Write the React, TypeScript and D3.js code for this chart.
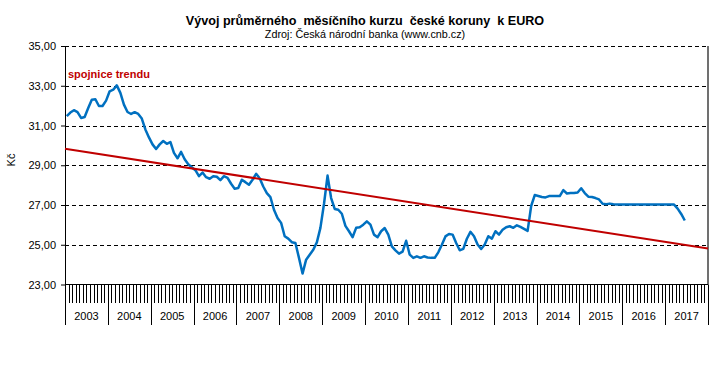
import React, { useEffect, useRef } from "react";
import * as d3 from "d3";

// monthly average CZK/EUR
const rate2003 = [31.47, 31.65, 31.77, 31.67, 31.38, 31.43, 31.88, 32.3, 32.32, 31.98, 31.98, 32.25];
const rate2004 = [32.72, 32.8, 33.02, 32.64, 32.05, 31.68, 31.58, 31.67, 31.58, 31.35, 30.8, 30.4];
const rate2005 = [30.05, 29.82, 30.05, 30.22, 30.08, 30.17, 29.62, 29.35, 29.67, 29.3, 29.05, 28.9];
const rate2006 = [28.75, 28.45, 28.63, 28.4, 28.32, 28.45, 28.42, 28.25, 28.45, 28.37, 28.07, 27.82];
const rate2007 = [27.85, 28.27, 28.15, 28.02, 28.27, 28.57, 28.35, 27.93, 27.6, 27.4, 26.76, 26.35];
const rate2008 = [26.1, 25.43, 25.31, 25.13, 25.09, 24.34, 23.55, 24.25, 24.5, 24.75, 25.12, 25.85];
const rate2009 = [27.05, 28.48, 27.35, 26.8, 26.76, 26.56, 25.95, 25.68, 25.38, 25.85, 25.88, 26.01];
const rate2010 = [26.18, 26.01, 25.51, 25.38, 25.68, 25.84, 25.51, 24.92, 24.72, 24.55, 24.65, 25.2];
const rate2011 = [24.5, 24.34, 24.42, 24.34, 24.42, 24.36, 24.34, 24.34, 24.62, 25.0, 25.42, 25.54];
const rate2012 = [25.51, 25.09, 24.72, 24.79, 25.3, 25.65, 25.43, 25.01, 24.79, 25.01, 25.43, 25.31];
const rate2013 = [25.68, 25.51, 25.75, 25.88, 25.93, 25.85, 25.98, 25.9, 25.8, 25.7, 26.95, 27.5];
const rate2014 = [27.45, 27.4, 27.38, 27.45, 27.45, 27.45, 27.45, 27.75, 27.58, 27.6, 27.6, 27.63];
const rate2015 = [27.84, 27.6, 27.42, 27.4, 27.35, 27.28, 27.06, 27.04, 27.07, 27.04, 27.03, 27.02];
const rate2016 = [27.03, 27.03, 27.03, 27.03, 27.03, 27.03, 27.03, 27.03, 27.03, 27.03, 27.03, 27.03];
const rate2017 = [27.02, 27.02, 27.02, 26.82, 26.55, 26.22];

const years = ["2003", "2004", "2005", "2006", "2007", "2008", "2009", "2010", "2011", "2012", "2013", "2014", "2015", "2016", "2017"];
const yTicks = [23, 25, 27, 29, 31, 33, 35];

const rates = [
  ...rate2003, ...rate2004, ...rate2005, ...rate2006, ...rate2007,
  ...rate2008, ...rate2009, ...rate2010, ...rate2011, ...rate2012,
  ...rate2013, ...rate2014, ...rate2015, ...rate2016, ...rate2017,
];

const font = "Arial, 'Liberation Sans', sans-serif";
const nMonths = years.length * 12;

const left = 65;
const right = 708;
const top = 46;
const bottom = 284.5;

const czFormat = d3.formatLocale({ decimal: ",", thousands: " ", grouping: [3], currency: ["", ""] }).format(".2f");

const YAxis = ({ scale }) => {
  const axis = useRef(null);

  useEffect(() => {
    const g = d3.select(axis.current);
    g.call(
      d3.axisLeft(scale).tickValues(yTicks).tickSize(4).tickSizeOuter(0).tickPadding(5).tickFormat(czFormat)
    );
    g.selectAll("text").attr("font-size", 11).attr("font-family", font).attr("fill", "#000");
    g.selectAll("line").attr("stroke", "#000");
    g.select(".domain").attr("stroke", "#000");
  });

  return <g ref={axis} transform={`translate(${left},0)`} />;
};

const App = () => {
  const x = d3.scaleLinear().domain([0, nMonths]).range([left, right]);
  const y = d3.scaleLinear().domain([23, 35]).range([bottom, top]);

  // linear trend (least squares), like the spreadsheet trendline
  const xs = rates.map((_, i) => i + 0.5);
  const mx = d3.mean(xs);
  const my = d3.mean(rates);
  const slope =
    d3.sum(xs, (v, i) => (v - mx) * (rates[i] - my)) / d3.sum(xs, (v) => (v - mx) * (v - mx));
  const icpt = my - slope * mx;

  const line = d3
    .line()
    .x((d, i) => x(i + 0.5))
    .y((d) => y(d));

  return (
    <svg width={728} height={387} style={{ position: "absolute", left: 0, top: 0, background: "#fff" }}>
      <text x={365} y={25} textAnchor="middle" fontFamily={font} fontSize={12.6} fontWeight="bold" style={{ whiteSpace: "pre" }}>
        {"Vývoj průměrného  měsíčního kurzu  české koruny  k EURO"}
      </text>
      <text x={365} y={37.5} textAnchor="middle" fontFamily={font} fontSize={10.8}>
        Zdroj: Česká národní banka (www.cnb.cz)
      </text>

      {yTicks.slice(1).map((t) => (
        <line key={t} x1={left} x2={right} y1={Math.round(y(t)) + 0.5} y2={Math.round(y(t)) + 0.5} stroke="#000" strokeDasharray="4,3" />
      ))}

      <line x1={right} x2={right} y1={top} y2={bottom} stroke="#404040" strokeWidth={1.5} />

      {d3.range(nMonths + 1).map((m) => (
        <line
          key={m}
          x1={Math.round(x(m)) + 0.5}
          x2={Math.round(x(m)) + 0.5}
          y1={bottom}
          y2={m % 12 === 0 ? 325 : 303}
          stroke="#000"
        />
      ))}
      <line x1={left} x2={right} y1={bottom} y2={bottom} stroke="#000" />

      {years.map((yr, k) => (
        <text key={yr} x={x(k * 12 + 6)} y={320} textAnchor="middle" fontFamily={font} fontSize={11}>
          {yr}
        </text>
      ))}

      <YAxis scale={y} />

      <text transform="translate(15,160) rotate(-90)" textAnchor="middle" fontFamily={font} fontSize={11}>
        Kč
      </text>

      <path d={line(rates)} fill="none" stroke="#0070C0" strokeWidth={2.5} strokeLinejoin="round" />

      <line
        x1={x(0)}
        x2={x(nMonths)}
        y1={y(icpt)}
        y2={y(icpt + slope * nMonths)}
        stroke="#C00000"
        strokeWidth={2}
      />

      <text x={68} y={78} fontFamily={font} fontSize={11} fontWeight="bold" fill="#C00000">
        spojnice trendu
      </text>
    </svg>
  );
};

export default App;
